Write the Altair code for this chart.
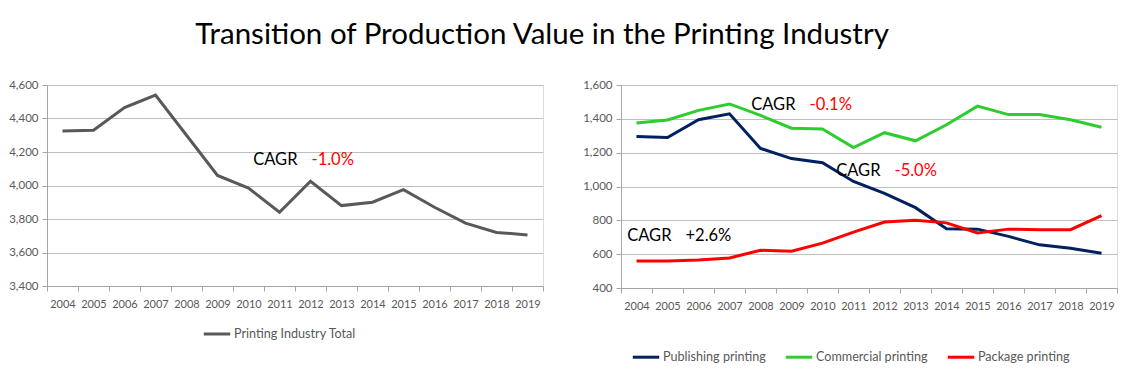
import altair as alt
import pandas as pd

years = [str(y) for y in range(2004, 2020)]

total = [4325, 4330, 4465, 4540, 4300, 4060, 3985, 3840, 4025, 3880, 3900, 3975, 3870, 3775, 3720, 3705]
publishing = [1295, 1290, 1395, 1430, 1225, 1165, 1140, 1030, 960, 875, 750, 748, 705, 655, 635, 605]
commercial = [1375, 1393, 1450, 1488, 1420, 1345, 1340, 1230, 1318, 1270, 1365, 1475, 1425, 1425, 1395, 1350]
package = [560, 560, 565, 578, 623, 617, 665, 730, 790, 800, 785, 725, 748, 745, 745, 828]

left_series = ["Printing Industry Total"]
right_series = ["Publishing printing", "Commercial printing", "Package printing"]
left_ticks = [3400, 3600, 3800, 4000, 4200, 4400, 4600]
right_ticks = [400, 600, 800, 1000, 1200, 1400, 1600]

# annotations: (label, value text, value colour, anchor year, anchor value)
left_notes = [("CAGR", "-1.0%", "#ff0000", "2011", 4150)]
right_notes = [("CAGR", "-0.1%", "#ff0000", "2009", 1481),
               ("CAGR", "-5.0%", "#ff0000", "2012", 1089),
               ("CAGR", "+2.6%", "#000000", "2005", 709)]
note_dx_left = [25]
note_dx_right = [11, 3, 11]

FONT = "Lato"
LABEL_COLOR = "#595959"

df_left = pd.DataFrame({"year": years, "value": total, "series": left_series[0]})
df_right = pd.concat([
    pd.DataFrame({"year": years, "value": publishing, "series": right_series[0]}),
    pd.DataFrame({"year": years, "value": commercial, "series": right_series[1]}),
    pd.DataFrame({"year": years, "value": package, "series": right_series[2]}),
])

x_axis = alt.Axis(title=None, labelAngle=0, labelFont=FONT, labelFontSize=11,
                  labelColor=LABEL_COLOR, domainColor="#a6a6a6", tickColor="#a6a6a6",
                  tickBand="extent", tickSize=5, grid=False, labelPadding=7)


def y_axis(ticks):
    return alt.Axis(title=None, format=",.0f", labelFont=FONT, labelFontSize=11.5,
                    labelColor=LABEL_COLOR, domainColor="#a6a6a6", tickColor="#a6a6a6",
                    tickSize=5, gridColor="#bfbfbf", values=ticks, labelPadding=4,
                    labelOverlap=False)


def legend(x, y, cols):
    return alt.Legend(title=None, orient="none", legendX=x, legendY=y, direction="horizontal",
                      columns=cols, symbolType="stroke", symbolStrokeWidth=3, symbolSize=700,
                      labelFont=FONT, labelFontSize=12.6, labelColor=LABEL_COLOR,
                      columnPadding=13, labelOffset=2)


def notes_layer(notes, dxs, yscale, ticks):
    layers = []
    for (lab, val, col, yr, v), dx in zip(notes, dxs):
        d = pd.DataFrame({"year": [yr], "value": [v], "lab": [lab], "val": [val]})
        base = alt.Chart(d).encode(x=alt.X("year:O", sort=years, axis=x_axis),
                                   y=alt.Y("value:Q", scale=yscale, axis=y_axis(ticks)))
        layers.append(base.mark_text(align="right", baseline="middle", font=FONT, fontSize=16.5,
                                     color="black", dx=dx - 7).encode(text="lab:N"))
        layers.append(base.mark_text(align="left", baseline="middle", font=FONT, fontSize=16.5,
                                     color=col, dx=dx + 7).encode(text="val:N"))
    return layers


yscale_l = alt.Scale(domain=[3400, 4600], nice=False)
yscale_r = alt.Scale(domain=[400, 1600], nice=False)

left_line = alt.Chart(df_left).mark_line(strokeWidth=3).encode(
    x=alt.X("year:O", sort=years, axis=x_axis),
    y=alt.Y("value:Q", scale=yscale_l, axis=y_axis(left_ticks)),
    color=alt.Color("series:N", scale=alt.Scale(domain=left_series, range=["#595959"]),
                    legend=legend(155, 234, 1)),
)
left = alt.layer(left_line, *notes_layer(left_notes, note_dx_left, yscale_l, left_ticks)).properties(
    width=496, height=201)

right_line = alt.Chart(df_right).mark_line(strokeWidth=3).encode(
    x=alt.X("year:O", sort=years, axis=x_axis),
    y=alt.Y("value:Q", scale=yscale_r, axis=y_axis(right_ticks)),
    color=alt.Color("series:N", sort=right_series,
                    scale=alt.Scale(domain=right_series, range=["#002060", "#2ecc2e", "#ff0000"]),
                    legend=legend(10, 257, 3)),
)
right = alt.layer(right_line, *notes_layer(right_notes, note_dx_right, yscale_r, right_ticks)).properties(
    width=496, height=203)

chart = alt.hconcat(left, right, spacing=38).resolve_scale(color="independent", y="independent").properties(
    title=alt.TitleParams("Transition of Production Value in the Printing Industry",
                          font=FONT, fontSize=29.5, fontWeight="normal", color="black",
                          anchor="middle", dx=-21, offset=28),
    padding={"left": 0, "top": 12, "right": 0, "bottom": 0},
).configure_view(strokeWidth=0).configure(background="white")

chart.save("out.html", embed_options={"renderer": "svg", "actions": False})
